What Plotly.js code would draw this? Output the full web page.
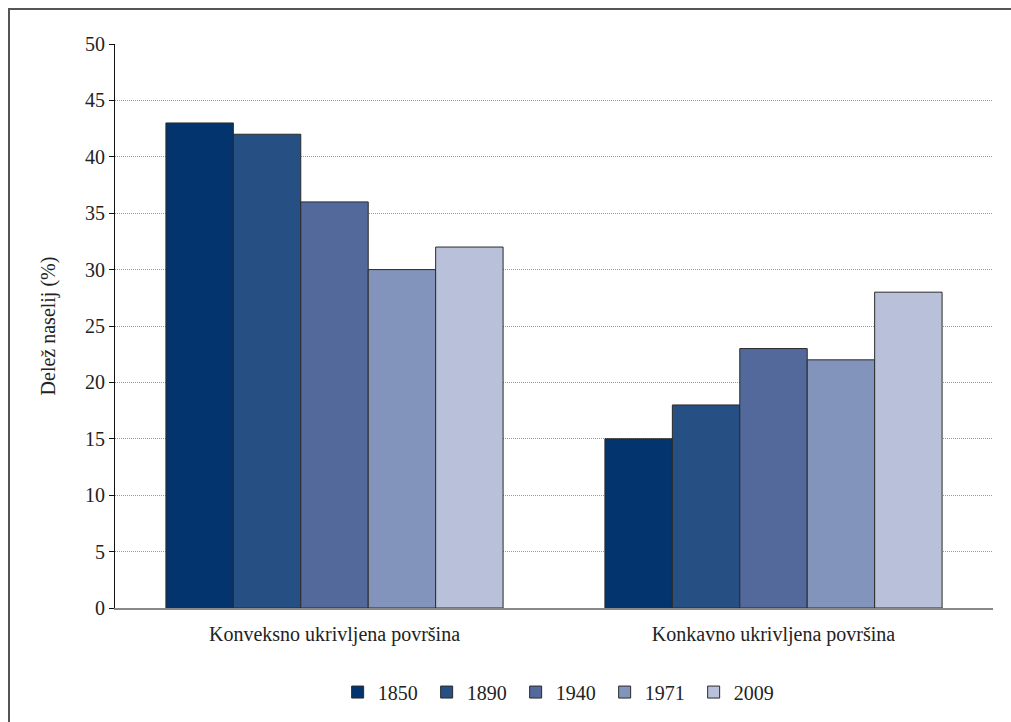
<!DOCTYPE html>
<html>
<head>
<meta charset="utf-8">
<script src="https://cdn.plot.ly/plotly-3.0.1.min.js"></script>
<style>
  html, body { margin: 0; padding: 0; background: #fff; overflow: hidden; }
  #frame { position: absolute; left: 8px; top: 8px; width: 1100px; height: 800px;
           border-left: 2px solid #555; border-top: 2px solid #555; pointer-events: none; z-index: 5; }
  #chart { position: absolute; left: 0; top: 0; width: 1011px; height: 722px; }
</style>
</head>
<body>
<div id="chart"></div>
<div id="frame"></div>
<script>
const categories = ["Konveksno ukrivljena površina", "Konkavno ukrivljena površina"];
const years = ["1850", "1890", "1940", "1971", "2009"];
const values1850 = [43, 15];
const values1890 = [42, 18];
const values1940 = [36, 23];
const values1971 = [30, 22];
const values2009 = [32, 28];
const colors = ["#03346E", "#264F84", "#53699C", "#8294BB", "#B8C0DA"];
const yTitle = "Delež naselij (%)";

const seriesValues = [values1850, values1890, values1940, values1971, values2009];
const traces = years.map((y, i) => ({
  type: "bar",
  name: y,
  x: categories,
  y: seriesValues[i],
  marker: { color: colors[i], line: { color: "#2a2a2a", width: 1 } },
  hoverinfo: "skip"
}));

const font = "Liberation Serif";
const layout = {
  width: 1011, height: 722,
  paper_bgcolor: "rgba(0,0,0,0)", plot_bgcolor: "#fff",
  margin: { l: 115, r: 18, t: 44, b: 113 },
  font: { family: font, size: 20, color: "#222" },
  barmode: "group",
  bargap: 0.232,
  bargroupgap: 0,
  showlegend: true,
  legend: { orientation: "h", x: 0.507, xanchor: "center", y: -0.147, yanchor: "middle",
            font: { family: font, size: 20, color: "#222" }, itemwidth: 30,
            entrywidth: 44, entrywidthmode: "pixels", traceorder: "normal" },
  xaxis: {
    type: "category", range: [-0.5, 1.5],
    showline: true, linecolor: "#888", linewidth: 2,
    ticks: "outside", ticklen: 7, tickcolor: "rgba(0,0,0,0)",
    showgrid: false, zeroline: false,
    tickfont: { family: font, size: 20, color: "#222" }
  },
  yaxis: {
    range: [0, 50], dtick: 5, tick0: 0,
    showline: true, linecolor: "#111", linewidth: 1,
    ticks: "outside", ticklen: 5, tickcolor: "#111",
    showgrid: true, gridcolor: "#999", griddash: "1px,1px", gridwidth: 1,
    zeroline: false,
    tickfont: { family: font, size: 20, color: "#222" },
    title: { text: yTitle, font: { family: font, size: 20, color: "#222" }, standoff: 24 }
  }
};

Plotly.newPlot("chart", traces, layout, { displayModeBar: false, staticPlot: true });
</script>
</body>
</html>
